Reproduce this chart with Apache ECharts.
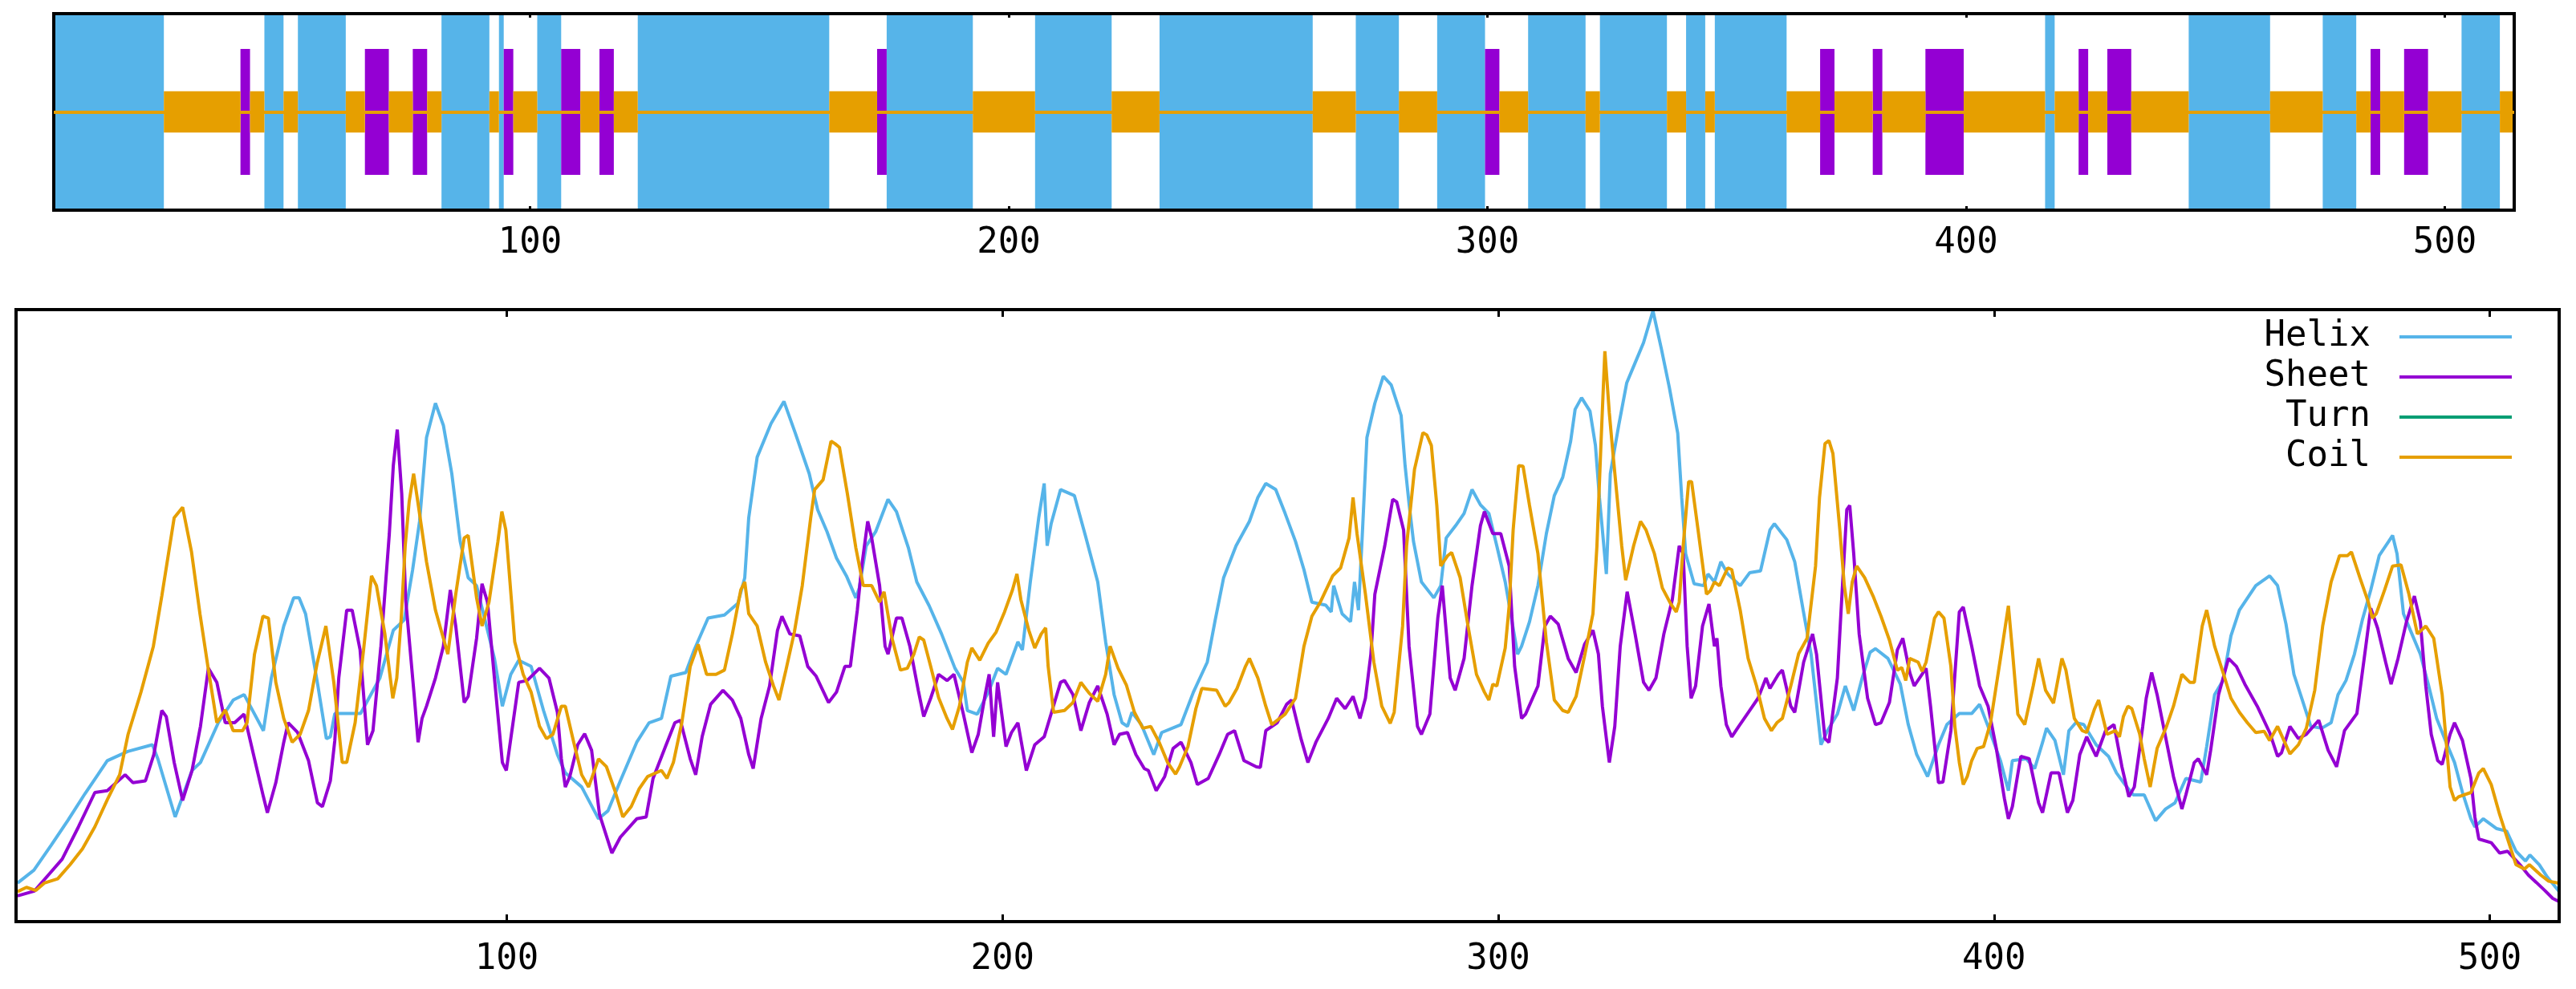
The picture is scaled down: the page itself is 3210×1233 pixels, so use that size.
<!DOCTYPE html>
<html>
<head>
<meta charset="utf-8">
<script src="https://cdn.jsdelivr.net/npm/echarts@6.0.0/dist/echarts.min.js"></script>
<style>
  html, body { margin: 0; padding: 0; background: #fff; }
  #chart { width: 3210px; height: 1233px; }
</style>
</head>
<body>
<div id="chart"></div>
<script>
// residue count and x tick labels
const seqLength = 514;
const xTicks = [100, 200, 300, 400, 500];

// predicted secondary structure, as residue ranges [first, last]
const helixRuns = [[1, 23], [45, 48], [52, 61], [82, 91], [94, 94], [102, 106], [123, 162], [175, 192],
  [206, 221], [232, 263], [273, 281], [290, 299], [309, 320], [324, 337], [342, 345], [348, 362],
  [417, 418], [447, 463], [475, 481], [504, 511]];
const sheetRuns = [[40, 41], [66, 70], [76, 78], [95, 96], [107, 110], [115, 117], [173, 174], [300, 302],
  [370, 372], [381, 382], [392, 399], [424, 425], [430, 434], [485, 486], [492, 496]];

// per-residue scores: [residue, score]
const helix = [[1.3,6.3],[4.6,8.4],[8.1,12.5],[11.5,16.6],[14.9,20.9],[17.5,24.0],[19.4,26.3],[23.5,27.8],[28.5,28.9],[29.6,26.6],[33.1,17.1],[36.5,24.7],[38.2,26.0],[41.8,32.5],[44.8,36.2],[47.0,37.1],[50.9,31.2],[52.5,39.8],[55.0,48.3],[57.0,52.9],[58.1,52.9],[59.4,50.3],[61.9,38.5],[63.6,29.9],[64.4,30.2],[65.3,34.0],[70.5,34.0],[74.4,39.8],[77.1,47.6],[79.3,49.3],[81.0,57.5],[82.4,65.4],[83.8,79.1],
  [85.6,84.7],[87.2,81.1],[88.9,73.2],[90.6,62.1],[92.2,56.2],[93.9,54.9],[95.5,49.6],[97.5,43.0],[99.1,35.2],[100.8,40.4],[102.4,42.7],[104.9,41.7],[107.4,34.5],[110.2,27.3],[111.8,24.3],[115.1,22.0],[118.5,16.8],[120.4,18.1],[122.9,23.0],[126.2,29.3],[128.7,32.5],[131.2,33.2],[133.1,40.1],[136.1,40.7],[137.8,44.4],[140.6,49.6],[143.9,50.1],[146.6,52.0],[148.0,56.2],[148.8,66.0],[150.5,75.9],[153.3,81.4],[155.9,85.0],[158.2,79.8],[161.0,73.2],[162.7,67.3],[164.6,63.7],[166.5,59.4],[168.5,56.5],[170.4,52.9],
  [171.1,54.5],[172.5,61.4],[174.4,63.7],[176.9,69.0],[178.6,67.0],[181.0,61.1],[182.7,55.5],[185.2,51.6],[187.7,47.0],[190.4,41.4],[192.1,39.1],[192.9,34.5],[194.9,33.9],[197.3,37.8],[199.0,41.4],[200.7,40.4],[203.1,45.7],[204.0,44.4],[205.6,55.5],[207.3,66.0],[208.4,71.6],[209.0,61.4],[209.8,65.0],[211.7,70.6],[214.5,69.6],[216.7,63.1],[219.2,55.5],[220.8,45.7],[222.5,37.1],[224.1,32.5],[225.2,31.9],[226.1,34.2],[228.0,32.2],[230.5,27.3],[232.1,30.9],[236.0,32.2],[238.5,37.5],[241.3,42.4],[242.9,49.3],[244.6,56.2],[247.1,61.4],[249.8,65.4],[251.5,69.3],[253.1,71.6],[255.1,70.6],[257.0,66.7],
  [259.1,62.1],[260.8,57.5],[262.4,52.2],[265.2,51.7],[266.3,50.6],[266.8,54.9],[268.5,50.3],[270.2,49.0],[271.0,55.5],[271.8,50.9],[272.6,63.7],[273.5,79.1],[275.1,84.7],[276.8,89.1],[278.4,87.7],[280.4,82.7],[281.2,74.5],[282.0,68.3],[282.9,62.1],[284.5,55.5],[287.0,52.9],[288.4,54.9],[289.5,62.7],[291.4,64.7],[293.1,66.7],[294.7,70.6],[296.4,68.1],[298.1,66.7],[299.7,61.4],[301.4,55.5],[303.9,43.7],[304.7,45.0],[306.3,49.0],[308.0,54.9],[309.7,63.4],[311.3,69.6],[313.0,72.6],[314.6,78.5],[315.5,83.7],[316.8,85.6],[318.5,83.4],[319.6,77.8],[320.4,69.3],[321.0,64.0],[321.8,56.8],[322.6,73.2],[324.3,81.1],[325.9,88.0],[327.6,91.3],[329.3,94.6],[331.2,99.8],[332.9,93.6],[334.5,87.3],[336.2,79.8],[337.0,69.3],[337.8,60.1],[339.5,55.2],[341.4,54.9],[342.3,56.8],[343.6,55.5],
  [344.9,58.8],[346.3,56.8],[348.8,54.9],[350.7,57.0],[352.9,57.3],[354.8,64.0],[355.7,65.0],[358.2,62.4],[359.8,58.8],[361.5,50.9],[363.1,43.7],[364.0,37.1],[365.1,28.9],[366.4,31.2],[368.4,33.9],[370.0,38.5],[371.7,34.5],[373.4,39.8],[375.0,44.0],[376.1,44.6],[378.6,43.0],[381.1,38.8],[382.7,32.2],[384.4,27.3],[386.6,23.7],[388.8,28.9],[390.5,32.2],[393.0,34.0],[395.5,34.0],[397.1,35.5],[398.8,31.9],[401.3,26.3],[402.9,21.4],[403.7,26.3],[406.5,26.6],[408.2,25.0],[409.8,29.3],[410.6,31.6],[412.3,29.6],[414.0,24.0],[415.1,31.2],[416.5,32.5],[418.1,32.2],[420.6,28.9],[423.1,27.0],[424.7,24.3],[426.4,22.4],[428.1,20.7],[430.3,20.7],
  [432.6,16.5],[434.6,18.4],[436.5,19.4],[438.7,23.4],[441.7,22.8],[442.9,28.6],[444.5,37.1],[446.2,39.4],[447.8,46.7],[449.5,50.9],[452.8,54.9],[455.6,56.5],[457.2,54.9],[458.9,48.6],[460.5,40.4],[462.2,36.2],[463.9,31.9],[466.1,31.6],[468.0,32.5],[469.4,37.1],[471.0,39.4],[472.7,43.7],[474.3,49.3],[476.0,54.2],[477.7,59.8],[479.6,62.1],[480.4,63.1],[481.3,60.1],[482.6,50.3],[484.3,47.0],[486.0,43.7],[487.6,38.8],[489.3,33.2],[490.9,29.9],[492.9,26.0],[494.5,21.1],[496.2,16.8],[497.0,15.5],[498.7,16.8],[501.4,15.2],[503.4,14.8],[505.3,11.5],[507.2,9.9],[508.1,10.9],[510.0,9.3],[511.6,7.3],[513.9,5.0]];

const sheet = [[1.3,4.2],[4.7,5.0],[7.5,7.6],[10.3,10.2],[13.6,15.5],[16.9,21.1],[19.4,21.4],[23.0,24.0],[24.6,22.7],[27.1,23.0],[28.8,27.3],[30.4,34.5],[31.3,33.5],[32.9,26.0],[34.6,19.8],[36.5,24.7],[38.2,31.9],[39.8,41.4],[41.5,39.1],[43.2,32.5],[45.1,32.5],[47.0,33.9],[49.1,26.6],[50.9,20.4],[51.7,17.8],[53.4,22.7],[55.0,29.3],[55.9,32.5],[57.8,30.9],[60.0,26.3],[61.8,19.4],[62.8,18.8],[64.4,23.0],[65.3,29.6],[66.1,39.8],[67.7,50.9],[68.8,50.9],[70.4,44.4],[71.9,28.9],[73.0,31.2],[74.6,45.0],[76.3,63.4],[77.1,74.5],[77.9,80.4],[78.8,69.9],[79.6,52.6],[81.3,37.1],[82.1,29.3],[82.9,33.2],[83.8,35.2],
  [85.6,39.8],[87.2,45.0],[88.6,54.2],[89.7,48.3],[91.4,35.8],[92.2,36.8],[93.9,46.3],[95.0,55.2],[96.1,52.2],[97.5,39.8],[99.1,26.0],[99.9,24.7],[100.8,29.9],[102.4,39.1],[104.1,39.4],[106.6,41.4],[108.5,39.8],[110.2,34.2],[111.0,26.6],[111.8,22.0],[112.7,23.7],[114.3,28.9],[115.7,30.7],[117.1,28.0],[118.7,17.5],[121.2,11.2],[122.9,13.8],[126.2,16.8],[128.1,17.1],[129.5,23.4],[132.0,28.6],[133.9,32.5],[135.0,32.9],[137.0,26.6],[138.1,24.0],[139.4,30.2],[141.1,35.5],[143.6,37.8],[145.5,36.2],[147.2,33.2],[148.8,27.3],[149.7,25.0],[151.3,33.2],[153.0,38.5],[154.6,47.6],[155.5,49.9],[157.1,47.0],[159.1,46.7],[160.7,41.7],[162.4,40.1],[164.9,35.8],[166.5,37.5],[168.2,41.7],[169.3,41.7],[170.7,50.9],
  [171.6,58.1],[172.8,65.4],[173.6,62.7],[174.4,58.8],[175.2,54.9],[176.3,45.0],[176.9,43.7],[178.6,49.6],[179.7,49.6],[181.3,45.0],[183.0,37.8],[184.1,33.5],[185.5,36.5],[187.1,40.4],[188.8,39.4],[190.2,40.4],[192.1,33.9],[193.8,27.6],[195.1,30.6],[196.5,37.1],[197.3,40.4],[198.2,30.2],[199.0,39.1],[200.7,28.6],[201.8,30.9],[203.1,32.5],[204.8,24.7],[206.5,28.9],[208.4,30.2],[210.0,34.5],[211.7,39.1],[212.5,39.4],[214.2,37.1],[215.8,31.2],[217.5,35.8],[219.2,38.5],[221.1,33.9],[222.5,28.9],[223.6,30.6],[225.2,30.9],[226.9,27.3],[228.6,25.0],[229.4,24.7],[231.0,21.4],[232.7,23.7],[234.4,28.3],[236.0,29.3],[238.0,26.0],[239.3,22.4],[241.5,23.4],[243.7,27.3],[245.4,30.6],[246.8,31.2],[248.7,26.3],[251.2,25.3],[252.0,25.2],[253.1,31.2],[255.4,32.5],[257.3,35.5],
  [258.3,36.2],[260.2,29.9],[261.6,26.0],[263.2,29.3],[265.7,33.2],[267.4,36.5],[269.1,34.8],[270.7,36.8],[272.1,33.2],[273.2,36.5],[274.3,43.7],[275.1,53.5],[277.1,61.4],[278.7,69.0],[279.5,68.6],[280.9,64.0],[282.0,45.0],[283.7,31.9],[284.5,30.6],[286.2,33.9],[287.8,49.6],[288.7,54.9],[290.3,39.8],[291.3,37.8],[293.1,43.0],[294.7,54.9],[296.4,64.7],[297.2,67.0],[298.9,63.4],[300.5,63.4],[302.2,58.1],[303.3,41.7],[304.7,33.2],[305.5,33.9],[308.0,38.5],[309.4,48.3],[310.5,49.9],[312.1,48.6],[314.1,43.0],[315.7,40.7],[317.4,45.3],[319.1,47.6],[320.2,43.7],[321.0,35.2],[322.4,26.0],[323.5,31.9],[324.6,45.0],[326.0,53.9],[327.6,47.0],[329.3,39.1],[330.4,37.8],[331.8,39.8],[333.4,47.0],[335.1,52.6],[336.5,61.4],[337.3,60.1],[338.1,45.0],[338.9,36.5],[339.8,38.5],[341.2,48.3],[342.5,51.9],[343.6,45.0],
  [344.1,46.3],[344.9,38.5],[346.0,32.2],[347.1,30.2],[348.5,31.9],[350.7,34.5],[352.4,36.5],[354.0,39.8],[354.8,38.1],[356.5,40.4],[357.3,41.1],[359.0,35.2],[359.8,34.2],[361.6,42.4],[363.4,47.0],[364.2,43.7],[365.9,29.9],[366.7,29.3],[368.4,39.8],[369.2,51.6],[370.3,67.3],[370.9,68.0],[371.7,60.1],[372.8,47.0],[374.5,36.5],[376.1,32.2],[377.2,32.5],[378.9,35.8],[380.5,44.4],[381.6,46.3],[383.0,40.7],[383.9,38.5],[386.3,41.4],[387.2,35.2],[388.8,22.7],[389.7,22.8],[391.3,31.2],[393.0,50.6],[393.8,51.4],[395.5,45.0],[397.1,38.5],[398.8,35.2],[400.4,28.6],[402.1,20.1],[402.9,16.8],[403.7,18.8],[405.4,27.0],[407.1,26.6],[409.0,19.4],[409.8,17.8],[411.5,24.3],[413.1,24.3],[414.8,17.8],[415.9,19.8],[417.3,27.3],[418.7,30.2],[420.6,27.0],[422.5,31.2],[424.2,32.2],[425.8,25.3],[427.2,20.4],[428.3,22.0],[430.0,31.9],
  [430.7,36.5],[431.8,40.7],[432.9,37.1],[434.6,30.2],[436.2,23.7],[437.9,18.4],[438.7,20.7],[440.4,26.0],[441.2,26.6],[442.9,24.0],[443.7,28.0],[445.3,37.1],[447.3,43.0],[448.9,41.7],[450.6,38.8],[453.1,35.2],[455.6,30.9],[457.2,27.0],[458.0,27.6],[459.7,31.9],[461.4,29.9],[463.0,30.6],[465.5,32.9],[467.4,28.0],[469.1,25.3],[470.7,31.2],[473.2,34.0],[474.9,44.4],[476.0,51.2],[477.4,47.9],[479.0,42.4],[480.1,38.8],[481.5,43.0],[483.2,49.0],[484.8,53.2],[486.0,49.0],[487.1,38.5],[488.2,30.6],[489.5,26.3],[490.4,25.7],[492.0,30.6],[492.9,32.5],[494.5,29.6],[496.2,23.4],[497.0,17.1],[497.8,13.5],[500.3,12.9],[502.0,11.2],[503.6,11.5],[506.1,9.3],[507.8,7.6],[509.4,6.4],[511.1,5.1],[512.7,3.8],[513.9,3.3]];

// no turn trace is visible in the picture
const turn = [];

const coil = [[1.3,4.9],[3.1,5.6],[5.0,5.1],[6.7,6.3],[9.4,7.0],[11.9,9.3],[14.4,11.9],[16.9,15.5],[19.4,19.9],[21.9,24.0],[23.6,30.6],[26.2,37.5],[28.7,45.0],[30.4,53.2],[32.9,66.0],[34.6,67.7],[36.4,60.4],[38.1,50.3],[39.7,41.7],[41.5,32.5],[43.2,34.6],[44.8,31.2],[46.7,31.2],[47.6,32.5],[49.1,43.7],[50.8,49.9],[51.9,49.6],[53.4,39.1],[55.0,33.2],[56.7,29.3],[58.3,30.6],[60.0,34.5],[61.7,42.1],[63.5,48.3],[65.1,39.1],[66.8,26.0],[67.7,26.0],[69.4,32.5],[71.1,44.4],[72.7,56.5],[73.7,54.9],[75.4,47.0],[77.0,36.5],[77.8,39.8],[78.7,49.6],[79.5,61.4],[80.3,68.6],[81.2,73.2],[82.1,68.3],[83.8,58.8],
  [85.6,50.9],[87.2,46.3],[88.1,43.7],[89.7,53.5],[91.4,62.7],[92.2,63.1],[93.9,52.9],[95.0,48.3],[96.4,52.2],[98.2,62.1],[99.0,67.0],[99.8,64.0],[101.6,45.7],[103.3,40.4],[104.9,37.5],[106.6,31.9],[108.0,29.9],[109.3,30.6],[111.0,35.2],[111.8,35.2],[113.5,29.3],[115.1,24.0],[116.5,22.0],[118.5,26.6],[120.1,25.3],[121.8,21.4],[123.4,17.1],[125.1,18.8],[126.7,21.7],[128.4,23.7],[131.2,24.7],[132.3,23.4],[133.6,26.0],[135.3,32.5],[137.0,41.7],[138.6,45.3],[140.3,40.4],[142.2,40.4],[143.9,41.1],[145.5,47.0],[147.2,54.2],[148.0,55.5],[148.8,50.3],[150.5,48.3],[152.2,42.4],[153.8,38.5],[154.9,36.2],[156.3,41.1],[158.0,47.3],[159.6,54.9],[161.3,66.0],[162.1,70.6],[163.8,72.2],[165.4,78.5],[166.2,78.1],[167.1,77.5],[168.7,69.9],[170.4,61.1],
  [171.9,54.9],[173.6,54.9],[175.2,52.2],[176.1,53.9],[177.7,46.3],[179.4,41.1],[180.8,41.4],[182.1,43.7],[183.2,46.5],[184.1,46.0],[185.5,41.7],[187.1,36.6],[188.8,33.2],[189.9,31.4],[191.3,35.2],[192.9,42.4],[193.8,44.7],[195.4,42.7],[197.1,45.5],[198.7,47.3],[200.4,50.6],[202.0,54.2],[202.9,56.8],[203.7,52.6],[205.3,47.6],[206.5,44.7],[207.8,47.0],[208.7,48.0],[209.2,41.7],[210.3,34.2],[212.5,34.5],[214.2,35.8],[215.8,39.1],[217.5,37.3],[219.2,36.0],[220.8,40.4],[221.7,45.0],[223.3,41.4],[225.0,38.6],[226.6,34.2],[228.3,31.6],[229.9,31.9],[231.6,29.3],[233.3,26.0],[234.9,24.1],[235.7,25.3],[237.4,28.6],[239.0,34.8],[240.2,38.1],[243.2,37.8],[244.9,35.2],[245.7,35.8],[247.3,38.1],[249.0,41.7],[249.8,43.0],[251.5,39.8],[253.1,35.2],[254.3,32.2],[255.9,33.2],[257.0,33.9],
  [259.1,36.5],[260.8,45.0],[262.4,49.9],[264.1,52.2],[266.6,56.5],[268.2,57.8],[269.9,62.7],[270.7,69.3],[271.5,63.4],[273.2,53.5],[274.9,42.4],[276.5,35.2],[278.2,32.4],[279.0,34.2],[280.7,48.3],[281.5,61.4],[283.1,73.9],[284.8,79.9],[285.6,79.5],[286.5,77.8],[287.6,68.0],[288.4,58.1],[289.8,59.8],[290.6,60.3],[292.3,56.2],[293.9,48.3],[295.6,40.4],[297.2,37.5],[298.1,36.2],[298.9,38.8],[299.7,38.5],[301.4,44.7],[302.2,51.6],[303.0,64.0],[304.1,74.5],[305.0,74.4],[306.3,68.0],[308.0,60.1],[309.7,45.7],[311.3,36.2],[313.0,34.5],[314.1,34.2],[315.7,36.8],[317.4,43.4],[319.1,50.3],[319.9,61.4],[320.7,77.8],[321.5,93.2],[322.4,83.1],[323.2,75.9],[324.9,61.4],[325.7,55.8],[327.3,61.4],[328.7,65.4],[329.8,64.0],[331.5,60.1],[333.1,54.5],[334.8,51.9],[335.9,50.6],[336.5,52.2],[337.3,61.4],[338.4,71.9],[339.0,71.9],[340.3,64.0],[342.0,53.5],[342.8,54.1],[343.6,55.5],
  [344.6,54.9],[346.3,57.8],[347.1,57.5],[348.8,50.9],[350.4,43.0],[352.1,38.5],[353.7,33.2],[355.1,31.2],[356.2,32.5],[357.3,33.2],[359.0,38.5],[360.6,43.8],[362.3,46.3],[364.0,58.1],[364.8,69.3],[365.9,78.1],[366.7,78.6],[367.5,76.5],[368.9,64.0],[369.8,54.9],[370.6,50.3],[371.4,55.5],[372.3,58.1],[373.9,56.2],[375.6,53.2],[377.2,49.9],[378.9,46.0],[380.5,41.1],[381.4,41.5],[382.2,39.4],[383.0,43.0],[384.7,42.4],[385.5,40.9],[386.3,42.4],[388.0,49.6],[388.8,50.6],[389.9,49.6],[391.3,41.7],[392.1,31.9],[393.0,26.0],[393.8,22.4],[394.6,23.7],[395.5,26.3],[396.6,28.3],[397.9,28.6],[399.3,32.5],[401.3,43.0],[402.9,51.6],[403.7,44.4],[404.8,33.9],[406.2,32.2],[407.9,38.5],[409.0,43.0],[410.4,37.8],[412.0,35.7],[413.7,43.0],[414.5,41.1],[416.2,33.2],[417.8,31.2],[418.7,30.9],[420.3,34.8],[421.1,36.2],[422.8,30.6],[424.5,31.2],[425.3,30.2],[426.1,33.5],[427.0,35.2],[427.8,34.8],[429.4,30.6],[430.3,26.6],
  [431.5,22.0],[432.9,28.3],[434.8,31.9],[436.2,35.2],[437.9,40.4],[439.5,39.1],[440.4,39.1],[442.0,48.3],[442.9,50.9],[444.5,45.0],[446.2,40.7],[447.8,36.5],[449.5,34.2],[451.1,32.5],[452.8,30.9],[454.5,31.1],[455.6,29.6],[457.2,31.9],[459.7,27.4],[461.4,28.9],[463.0,31.6],[464.7,37.8],[466.3,48.3],[468.0,55.5],[469.7,59.8],[471.3,59.8],[472.1,60.4],[473.8,56.2],[475.5,52.2],[476.3,49.6],[477.1,50.3],[478.8,54.2],[480.4,58.1],[482.1,58.3],[483.7,53.5],[485.4,47.0],[487.1,48.3],[488.7,46.3],[490.4,37.1],[492.0,22.0],[492.9,19.8],[493.7,20.4],[496.2,21.1],[497.8,24.3],[498.7,25.0],[500.3,22.4],[502.0,17.5],[503.6,13.5],[505.3,9.3],[507.0,8.6],[508.0,9.3],[510.3,7.6],[511.9,6.6],[513.9,6.3]];

const HELIX = '#56b4e9', SHEET = '#9400d3', TURN = '#009e73', COIL = '#e69f00';
const FONT = "'DejaVu Sans Mono', monospace";

// every residue that is neither helix nor sheet is drawn as coil
function coilRuns(len, lists) {
  const taken = new Array(len + 2).fill(false);
  lists.forEach(list => list.forEach(([a, b]) => { for (let i = a; i <= b; i++) taken[i] = true; }));
  const out = [];
  let start = null;
  for (let i = 1; i <= len + 1; i++) {
    if (i <= len && !taken[i]) { if (start === null) start = i; }
    else if (start !== null) { out.push([start, i - 1]); start = null; }
  }
  return out;
}

function runRenderer(half, color) {
  return function (params, api) {
    const p0 = api.coord([api.value(0) - 0.5, half]);
    const p1 = api.coord([api.value(1) + 0.5, -half]);
    return {
      type: 'rect',
      shape: { x: p0[0], y: p0[1], width: p1[0] - p0[0], height: p1[1] - p0[1] },
      style: { fill: color }
    };
  };
}

function tickAxis(grid, pos, min, max, len, labelMargin) {
  return {
    gridIndex: grid, type: 'value', position: pos, min: min, max: max, z: 6,
    axisLine: { show: false, onZero: false }, splitLine: { show: false },
    axisTick: { show: true, inside: true, length: len, customValues: xTicks, lineStyle: { color: '#000', width: 3 } },
    axisLabel: pos === 'bottom'
      ? { show: true, customValues: xTicks, fontSize: 44, color: '#000', fontFamily: FONT, margin: labelMargin }
      : { show: false }
  };
}

const chart = echarts.init(document.getElementById('chart'));
chart.setOption({
  animation: false,
  backgroundColor: '#fff',
  textStyle: { fontFamily: FONT },
  grid: [
    { left: 67, top: 17, width: 3066, height: 245, show: true, z: 5, borderColor: '#000', borderWidth: 4, backgroundColor: 'transparent' },
    { left: 20, top: 386, width: 3169, height: 763, show: true, z: 5, borderColor: '#000', borderWidth: 4, backgroundColor: 'transparent' }
  ],
  xAxis: [
    tickAxis(0, 'bottom', 0.5, seqLength + 0.5, 5, 20),
    tickAxis(0, 'top', 0.5, seqLength + 0.5, 5),
    tickAxis(1, 'bottom', 1, seqLength, 9, 26),
    tickAxis(1, 'top', 1, seqLength, 9)
  ],
  yAxis: [
    { gridIndex: 0, type: 'value', min: -1, max: 1, show: false },
    { gridIndex: 1, type: 'value', min: 0, max: 100, show: false }
  ],
  legend: {
    data: ['Helix', 'Sheet', 'Turn', 'Coil'],
    orient: 'vertical', right: 80, top: 395, align: 'right',
    icon: 'rect', itemWidth: 140, itemHeight: 4, itemGap: 0, padding: 0,
    textStyle: { fontSize: 44, color: '#000', fontFamily: FONT, lineHeight: 50, padding: [0, 31, 0, 0] }
  },
  series: [
    { name: 'helixTrack', type: 'custom', xAxisIndex: 0, yAxisIndex: 0, encode: { x: [0, 1] },
      data: helixRuns, renderItem: runRenderer(1, HELIX) },
    { name: 'sheetTrack', type: 'custom', xAxisIndex: 0, yAxisIndex: 0, encode: { x: [0, 1] },
      data: sheetRuns, renderItem: runRenderer(0.64, SHEET) },
    { name: 'coilTrack', type: 'custom', xAxisIndex: 0, yAxisIndex: 0, encode: { x: [0, 1] },
      data: coilRuns(seqLength, [helixRuns, sheetRuns]), renderItem: runRenderer(0.21, COIL),
      markLine: { silent: true, symbol: 'none', label: { show: false }, animation: false,
        lineStyle: { color: COIL, width: 4, type: 'solid' }, data: [{ yAxis: 0 }] } },
    { name: 'Helix', type: 'line', xAxisIndex: 2, yAxisIndex: 1, data: helix, showSymbol: false,
      itemStyle: { color: HELIX }, lineStyle: { color: HELIX, width: 4 } },
    { name: 'Sheet', type: 'line', xAxisIndex: 2, yAxisIndex: 1, data: sheet, showSymbol: false,
      itemStyle: { color: SHEET }, lineStyle: { color: SHEET, width: 4 } },
    { name: 'Turn', type: 'line', xAxisIndex: 2, yAxisIndex: 1, data: turn, showSymbol: false,
      itemStyle: { color: TURN }, lineStyle: { color: TURN, width: 4 } },
    { name: 'Coil', type: 'line', xAxisIndex: 2, yAxisIndex: 1, data: coil, showSymbol: false,
      itemStyle: { color: COIL }, lineStyle: { color: COIL, width: 4 } }
  ]
});
</script>
</body>
</html>
